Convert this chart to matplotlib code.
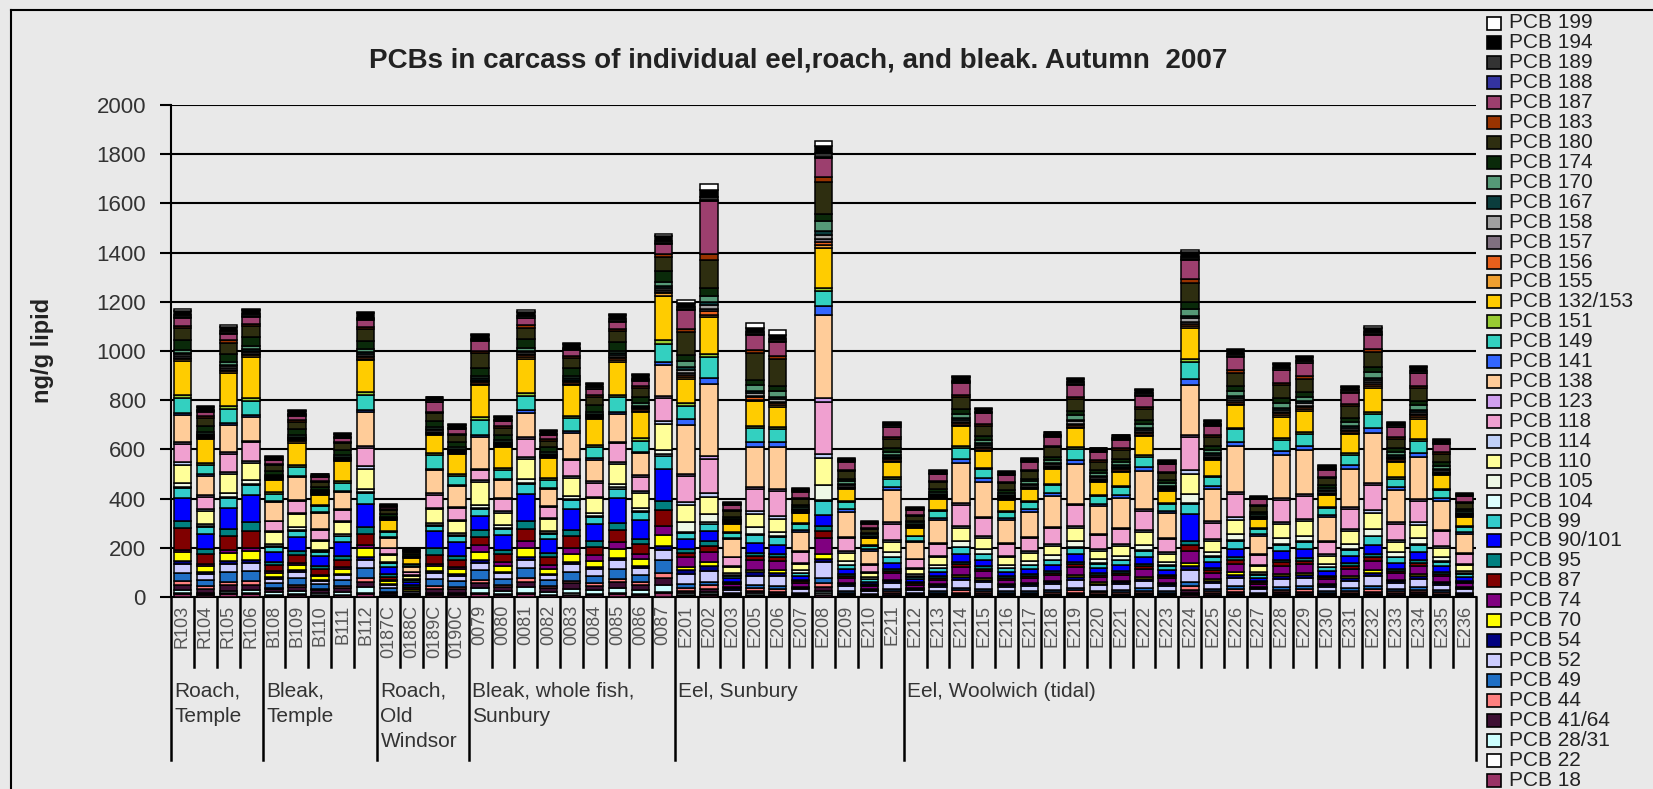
import numpy as np
import matplotlib
matplotlib.use('Agg')
import matplotlib.pyplot as plt
from matplotlib.patches import Rectangle
from matplotlib.lines import Line2D
import matplotlib.transforms as mtransforms

plt.rcParams['font.family'] = ['Liberation Sans', 'DejaVu Sans']

title = "PCBs in carcass of individual eel,roach, and bleak. Autumn  2007"
ylabel = "ng/g lipid"

categories = ["R103", "R104", "R105", "R106",
              "B108", "B109", "B110", "B111", "B112",
              "0187C", "0188C", "0189C", "0190C",
              "0079", "0080", "0081", "0082", "0083", "0084", "0085", "0086", "0087",
              "E201", "E202", "E203", "E205", "E206", "E207", "E208", "E209", "E210", "E211",
              "E212", "E213", "E214", "E215", "E216", "E217", "E218", "E219", "E220", "E221",
              "E222", "E223", "E224", "E225", "E226", "E227", "E228", "E229", "E230", "E231",
              "E232", "E233", "E234", "E235", "E236"]

group_labels = ["Roach,\nTemple", "Bleak,\nTemple", "Roach,\nOld\nWindsor",
                "Bleak, whole fish,\nSunbury", "Eel, Sunbury", "Eel, Woolwich (tidal)"]
group_sizes = [4, 5, 4, 9, 10, 25]

# series in stacking order (bottom -> top); values: 22 roach/bleak bars, then 35 eel bars
pcb_18 = [12,8,11,12,6,8,5,7,12,4,2,8,7,11,7,12,7,10,9,11,9,15,
          6,8,2,6,5,2,9,3,2,4, 2,3,4,4,3,3,3,4,3,3,4,3,7,4,5,2,5,5,3,4,5,4,5,3,2]
pcb_22 = [6,4,6,6,3,4,3,3,6,2,1,4,4,5,4,6,3,5,4,6,5,7,
          4,5,1,3,3,1,6,2,1,2, 1,2,3,2,2,2,2,3,2,2,3,2,4,2,3,1,3,3,2,3,3,2,3,2,1]
pcb_28_31 = [9,6,9,9,10,14,9,12,21,3,2,6,6,19,13,21,12,19,16,21,16,27,
             6,8,2,6,5,2,9,3,2,4, 2,3,4,4,3,3,3,4,3,3,4,3,7,4,5,2,5,5,3,4,5,4,5,3,2]
pcb_41_64 = [23,16,22,23,12,15,10,14,23,8,4,16,14,22,15,23,14,21,17,23,18,30,
             10,13,3,9,9,4,15,4,2,6, 3,4,7,6,4,4,5,7,5,5,7,4,11,6,8,3,8,8,4,7,9,6,7,5,3]
pcb_44 = [14,9,13,14,7,9,6,8,14,5,2,10,8,13,9,14,8,12,10,14,11,18,
          12,16,4,11,11,4,18,6,3,7, 4,5,9,8,5,6,7,9,6,7,8,6,14,7,10,4,9,10,5,8,11,7,9,6,4]
pcb_49 = [35,28,39,41,20,27,18,24,41,14,7,28,25,38,26,41,24,36,30,40,32,52,
          14,12,5,13,13,5,22,7,4,8, 4,6,11,9,6,7,8,11,7,8,10,7,17,9,12,5,11,12,6,10,13,8,11,8,5]
pcb_52 = [35,24,34,35,17,23,15,20,35,12,6,24,21,32,22,35,20,31,26,34,27,44,
          42,45,13,39,38,15,65,20,11,25, 13,18,31,27,18,20,23,31,21,23,29,19,49,25,35,14,33,34,19,30,38,25,33,22,15]
pcb_54 = [12,8,11,12,6,8,5,7,12,4,2,8,7,11,7,12,7,10,9,11,9,15,
          14,20,5,13,13,5,12,7,4,8, 4,6,11,9,6,7,8,11,7,8,10,7,17,9,12,5,11,12,6,10,13,8,11,8,5]
pcb_70 = [35,24,34,35,17,23,15,20,35,12,6,24,21,32,22,35,20,31,26,34,27,44,
          12,16,4,11,11,4,18,6,3,7, 4,5,9,8,5,6,7,9,6,7,8,6,14,7,10,4,9,10,5,8,11,7,9,6,4]
pcb_74 = [12,8,11,12,6,8,5,7,12,4,2,8,7,27,18,29,17,26,22,28,22,37,
          42,40,13,39,38,15,65,20,11,25, 13,18,31,27,18,20,23,31,21,23,29,19,49,25,35,14,33,34,19,30,38,25,33,22,15]
pcb_87 = [88,40,60,70,25,30,22,28,45,15,8,34,30,34,30,50,30,45,35,50,38,65,
          18,25,6,17,16,7,28,8,5,11, 5,8,13,11,8,8,10,13,9,10,13,8,21,11,15,6,14,15,8,13,16,11,14,10,6]
pcb_95 = [27,20,28,35,15,19,13,17,29,10,5,30,18,27,19,29,17,26,22,29,23,37,
          14,20,5,13,13,5,22,7,4,8, 4,6,11,9,6,7,8,11,7,8,10,7,17,9,12,5,11,12,6,10,13,8,11,8,5]
pcb_90_101 = [95,60,85,110,40,55,40,55,95,30,15,68,55,60,60,110,55,85,70,100,75,130,
              40,40,13,39,38,15,45,20,11,25, 13,18,31,27,18,20,23,31,21,23,29,19,110,25,35,14,33,34,19,30,38,25,33,22,15]
pcb_99 = [40,28,39,41,20,27,18,24,41,14,7,20,25,27,26,41,24,36,30,40,32,52,
          27,30,11,34,32,13,55,17,9,21, 11,15,27,23,15,17,20,26,18,20,25,17,42,21,30,12,28,29,16,26,33,21,28,19,13]
pcb_104 = [6,4,6,6,3,4,3,3,6,2,1,4,4,5,4,6,3,5,4,6,5,7,
           4,5,1,3,3,1,6,2,1,2, 1,2,3,2,2,2,2,3,2,2,3,2,4,2,3,1,3,3,2,3,3,2,3,2,1]
pcb_105 = [14,9,13,14,7,9,6,8,14,5,2,10,8,13,9,14,8,12,10,14,11,18,
           40,35,10,28,15,11,60,14,8,18, 9,13,22,19,13,14,17,22,15,16,21,14,35,18,25,10,24,24,13,21,27,18,23,16,11]
pcb_110 = [75,55,78,70,50,53,35,48,81,27,14,54,49,90,52,81,48,72,61,80,63,104,
           68,68,23,55,55,26,110,34,18,42, 22,31,53,46,30,34,40,53,36,39,50,33,84,43,60,25,56,58,32,51,65,42,56,38,25]
pcb_114 = [9,6,9,9,5,6,4,5,9,3,2,6,6,9,6,9,5,8,7,9,7,12,
           12,16,4,11,11,4,18,6,3,7, 4,5,9,8,5,6,7,9,6,7,8,6,14,7,10,4,9,10,5,8,11,7,9,6,4]
pcb_118 = [75,51,73,75,38,49,40,44,75,25,13,54,46,40,48,75,44,67,57,74,59,96,
           105,140,36,90,103,42,210,53,29,67, 34,48,85,72,48,53,64,84,57,62,80,52,133,67,95,39,89,92,50,81,104,67,88,61,40]
pcb_123 = [7,5,7,7,3,5,3,4,7,2,1,5,4,6,4,7,4,6,5,7,5,9,
           10,13,3,9,9,4,15,4,2,6, 3,4,7,6,4,4,5,7,5,5,7,4,11,6,8,3,8,8,4,7,9,6,7,5,3]
pcb_138 = [110,79,112,95,75,90,65,68,140,39,20,95,85,130,74,100,68,103,87,114,90,125,
           200,290,70,160,170,81,340,104,56,130, 67,94,165,141,93,104,124,163,111,120,155,102,200,131,185,76,174,179,98,157,202,130,172,118,78]
pcb_141 = [9,6,9,9,5,6,4,5,9,3,2,6,6,9,6,9,5,8,7,9,7,12,
           22,25,7,20,19,8,35,10,5,13, 6,9,16,14,9,10,12,16,11,12,15,10,25,13,18,7,17,17,10,15,20,13,17,12,8]
pcb_149 = [60,40,56,58,29,38,25,34,58,20,10,54,35,60,37,58,34,52,44,57,45,74,
           55,85,19,56,54,22,60,28,15,35, 18,26,45,38,25,28,34,44,30,33,42,28,70,36,50,21,47,49,27,43,55,35,47,32,21]
pcb_151 = [12,8,11,12,6,8,5,7,12,4,2,8,7,11,7,12,7,10,9,11,9,15,
           10,13,3,9,9,4,15,4,2,6, 3,4,7,6,4,4,5,7,5,5,7,4,11,6,8,3,8,8,4,7,9,6,7,5,3]
pcb_132_153 = [140,95,135,165,50,90,40,80,130,45,24,75,84,130,85,140,80,125,105,135,108,180,
               100,150,34,101,80,40,160,50,27,63, 32,46,80,68,45,50,60,79,54,59,76,50,126,64,90,37,85,87,48,77,98,63,84,58,38]
pcb_155 = [7,5,7,7,3,5,3,4,7,2,1,5,4,6,4,7,4,6,5,7,5,9,
           7,10,2,7,6,3,11,3,2,4, 2,3,5,5,3,3,4,5,4,4,5,3,8,4,6,2,6,6,3,5,7,4,6,4,3]
pcb_156 = [6,4,6,6,3,4,3,3,6,2,1,4,4,5,4,6,3,5,4,6,5,7,
           10,13,3,9,9,4,15,4,2,6, 3,4,7,6,4,4,5,7,5,5,7,4,11,6,8,3,8,8,4,7,9,6,7,5,3]
pcb_157 = [6,4,6,6,3,4,3,3,6,2,1,4,4,5,4,6,3,5,4,6,5,7,
           7,10,2,7,6,3,11,3,2,4, 2,3,5,5,3,3,4,5,4,4,5,3,8,4,6,2,6,6,3,5,7,4,6,4,3]
pcb_158 = [7,5,7,7,3,5,3,4,7,2,1,5,4,6,4,7,4,6,5,7,5,9,
           12,16,4,11,11,4,18,6,3,7, 4,5,9,8,5,6,7,9,6,7,8,6,14,7,10,4,9,10,5,8,11,7,9,6,4]
pcb_167 = [7,5,7,7,3,5,3,4,7,2,1,5,4,6,4,7,4,6,5,7,5,9,
           10,13,3,9,9,4,15,4,2,6, 3,4,7,6,4,4,5,7,5,5,7,4,11,6,8,3,8,8,4,7,9,6,7,5,3]
pcb_170 = [12,8,11,12,6,8,5,7,12,4,2,8,7,11,7,12,7,10,9,11,9,15,
           25,25,8,22,22,9,40,11,6,14, 7,10,18,15,10,11,13,18,12,13,17,11,28,14,20,8,19,19,11,17,22,14,19,13,8]
pcb_174 = [40,24,34,35,17,23,15,20,35,12,6,24,21,32,22,35,20,31,26,34,27,44,
           25,30,8,22,22,9,30,11,6,14, 7,10,18,15,10,11,13,18,12,13,17,11,28,14,20,8,19,19,11,17,22,14,19,13,8]
pcb_180 = [47,32,45,46,23,30,20,27,46,16,8,32,28,60,30,46,27,41,35,46,36,59,
           95,115,21,110,110,24,130,31,17,39, 20,28,49,42,28,31,37,48,33,36,46,30,77,39,55,23,52,53,29,47,60,39,51,35,23]
pcb_183 = [9,6,9,9,5,6,4,5,9,3,2,6,6,9,6,9,5,8,7,9,7,12,
           12,25,4,11,11,4,20,6,3,7, 4,5,9,8,5,6,7,9,6,7,8,6,14,7,10,4,9,10,5,8,11,7,9,6,4]
pcb_187 = [34,20,28,29,15,19,13,17,29,10,5,40,18,40,19,29,17,26,22,29,23,37,
           75,215,21,62,59,24,75,31,17,39, 20,28,49,42,28,31,37,48,33,36,46,30,77,39,55,23,52,53,29,47,60,39,51,35,23]
pcb_188 = [4,2,3,3,2,2,2,2,3,1,1,2,2,3,2,3,2,3,3,3,3,4,
           4,5,1,3,3,1,6,2,1,2, 1,2,3,2,2,2,2,3,2,2,3,2,4,2,3,1,3,3,2,3,3,2,3,2,1]
pcb_189 = [7,5,7,7,3,5,3,4,7,2,1,5,4,6,4,7,4,6,5,7,5,9,
           10,13,3,9,9,4,15,4,2,6, 3,4,7,6,4,4,5,7,5,5,7,4,11,6,8,3,8,8,4,7,9,6,7,5,3]
pcb_194 = [18,12,17,17,9,11,8,10,17,6,3,12,11,16,11,17,10,15,13,17,14,22,
           18,25,6,17,16,7,28,8,5,11, 5,8,13,11,8,8,10,13,9,10,13,8,21,11,15,6,14,15,8,13,16,11,14,10,6]
pcb_199 = [6,4,6,6,3,4,3,3,6,2,1,4,4,5,4,6,3,5,4,6,5,7,
           10,25,2,20,18,2,20,3,2,4, 2,3,4,4,3,3,3,4,3,3,4,3,7,4,5,2,5,5,3,4,5,4,5,3,2]

series_names = ["PCB 18", "PCB 22", "PCB 28/31", "PCB 41/64", "PCB 44", "PCB 49", "PCB 52",
                "PCB 54", "PCB 70", "PCB 74", "PCB 87", "PCB 95", "PCB 90/101", "PCB 99",
                "PCB 104", "PCB 105", "PCB 110", "PCB 114", "PCB 118", "PCB 123", "PCB 138",
                "PCB 141", "PCB 149", "PCB 151", "PCB 132/153", "PCB 155", "PCB 156",
                "PCB 157", "PCB 158", "PCB 167", "PCB 170", "PCB 174", "PCB 180", "PCB 183",
                "PCB 187", "PCB 188", "PCB 189", "PCB 194", "PCB 199"]
series_values = [pcb_18, pcb_22, pcb_28_31, pcb_41_64, pcb_44, pcb_49, pcb_52, pcb_54, pcb_70,
                 pcb_74, pcb_87, pcb_95, pcb_90_101, pcb_99, pcb_104, pcb_105, pcb_110, pcb_114,
                 pcb_118, pcb_123, pcb_138, pcb_141, pcb_149, pcb_151, pcb_132_153, pcb_155,
                 pcb_156, pcb_157, pcb_158, pcb_167, pcb_170, pcb_174, pcb_180, pcb_183, pcb_187,
                 pcb_188, pcb_189, pcb_194, pcb_199]
series_colors = ["#993366", "#FFFFFF", "#CCFFFF", "#3D0F33", "#FF8080", "#1F6FC5", "#CCCCFF",
                 "#000080", "#FFFF00", "#800080", "#800000", "#008080", "#0000FF", "#33CCCC",
                 "#DDFFFF", "#EEF8E6", "#FFFF99", "#C0D0F8", "#F0A0D0", "#D0A0F0", "#FFCC99",
                 "#3366FF", "#33D0C0", "#99CC33", "#FFCC00", "#F0A030", "#E8601C", "#807080",
                 "#A0A0A0", "#0B3D3D", "#559977", "#0A2A0A", "#2E2E10", "#993300", "#9C3F6E",
                 "#3333A0", "#333333", "#000000", "#FFFFFF"]

W, H = 1653, 789
fig = plt.figure(figsize=(W / 100, H / 100), dpi=100, facecolor="#e9e9e9")
ax = fig.add_axes([171 / W, 1 - 597 / H, (1476 - 171) / W, (597 - 105) / H])
ax.set_facecolor("none")

x = np.arange(len(categories))
bottom = np.zeros(len(categories))
for vals, col in zip(series_values, series_colors):
    vals = np.asarray(vals, dtype=float)
    ax.bar(x, vals, 0.76, bottom=bottom, color=col, edgecolor="black", linewidth=1.1, zorder=3)
    bottom += vals

ax.set_xlim(-0.5, len(categories) - 0.5)
ax.set_ylim(0, 2000)
ax.set_yticks(range(0, 2001, 200))
ax.yaxis.grid(True, color="black", linewidth=1.5)
ax.set_axisbelow(True)
for s in ["top", "right"]:
    ax.spines[s].set_visible(False)
ax.spines["left"].set_linewidth(1.5)
ax.spines["bottom"].set_linewidth(1.5)
ax.tick_params(axis="y", length=8, width=1.5, pad=10, labelsize=16, labelcolor="#333333")
ax.tick_params(axis="x", length=0, labelbottom=False)

trans = mtransforms.blended_transform_factory(ax.transData, ax.transAxes)
short_y = -70 / 492
long_y = -163 / 492
bounds = np.cumsum([0] + group_sizes)
for i in range(len(categories) + 1):
    yend = long_y if i in bounds else short_y
    ax.plot([i - 0.5, i - 0.5], [0, yend], color="black", linewidth=1.8,
            transform=trans, clip_on=False, zorder=4)

for i, cat in enumerate(categories):
    ax.text(i, -0.016, cat, rotation=90, ha="center", va="top", fontsize=13,
            color="#555555", transform=trans)

for start, lab in zip(bounds[:-1], group_labels):
    ax.text(start - 0.5 + 0.15, -0.172, lab, ha="left", va="top", fontsize=15,
            linespacing=1.4, color="#333333", transform=trans)

# legend (top entry = top of stack)
n = len(series_names)
for j, (name, col) in enumerate(zip(series_names[::-1], series_colors[::-1])):
    yc = 23 + j * (780 - 23) / (n - 1)
    fig.patches.append(Rectangle((1487 / W, 1 - (yc + 6.5) / H), 14 / W, 13 / H,
                                 transform=fig.transFigure, facecolor=col,
                                 edgecolor="black", linewidth=1.2))
    fig.text(1509 / W, 1 - yc / H, name, ha="left", va="center", fontsize=15, color="#222222")

fig.text(798 / W, 1 - 61 / H, title, ha="center", va="center", fontsize=20,
         fontweight="bold", color="#222222")
fig.text(42 / W, 1 - 350 / H, ylabel, rotation=90, ha="center", va="center",
         fontsize=17, fontweight="bold", color="#222222")

fig.add_artist(Line2D([11 / W, 11 / W], [0, 1 - 10 / H], color="black", linewidth=1.5,
                      transform=fig.transFigure))
fig.add_artist(Line2D([11 / W, 1], [1 - 10 / H, 1 - 10 / H], color="black", linewidth=1.5,
                      transform=fig.transFigure))

fig.savefig("out.png", dpi=100, facecolor=fig.get_facecolor())
